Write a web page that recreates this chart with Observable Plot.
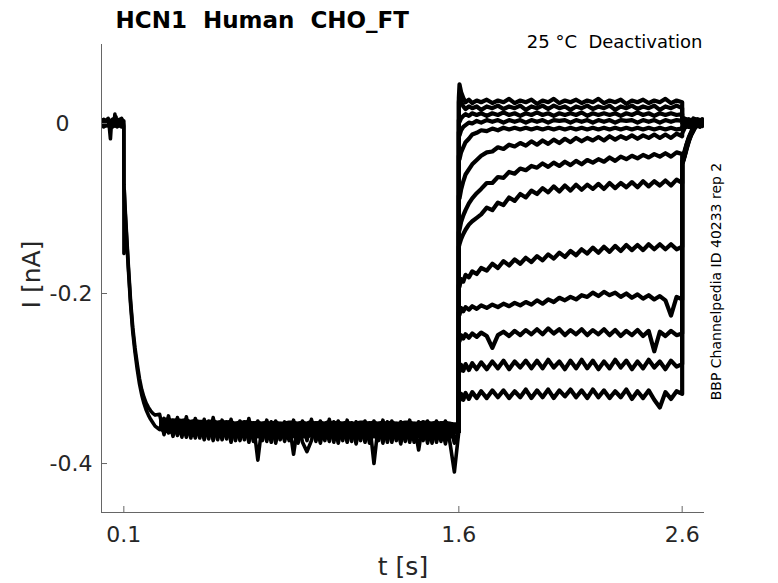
<!DOCTYPE html>
<html>
<head>
<meta charset="utf-8">
<script src="https://cdn.jsdelivr.net/npm/d3@7"></script>
<script src="https://cdn.jsdelivr.net/npm/@observablehq/plot@0.6"></script>
<style>
  body { margin: 0; background: #fff; }
  svg text { white-space: pre; }
</style>
</head>
<body>
<div id="chart"></div>
<script>
// ---- tick labels / text ----
const xTicks = [0.1, 1.6, 2.6];
const yTicks = [0, -0.2, -0.4];
const titleText = "HCN1  Human  CHO_FT";
const conditionText = "25 °C  Deactivation";
const sourceText = "BBP Channelpedia ID 40233 rep 2";

// ---- prepulse (shared by all sweeps), two representative sweeps A/B ----
const tHold = [0, 0.005, 0.01, 0.015, 0.02, 0.025, 0.03, 0.035, 0.04, 0.045, 0.05,
  0.055, 0.06, 0.065, 0.07, 0.075, 0.08, 0.085, 0.09, 0.095, 0.1];
const tDecay = [0.1005, 0.102, 0.105, 0.11, 0.115, 0.12, 0.13, 0.14, 0.15, 0.16,
  0.17, 0.18, 0.19, 0.2, 0.21, 0.22, 0.23, 0.24];
const tBand = [0.26, 0.28, 0.30, 0.32, 0.34, 0.36, 0.38, 0.40, 0.42, 0.44,
  0.46, 0.48, 0.50, 0.52, 0.54, 0.56, 0.58, 0.60, 0.62, 0.64,
  0.66, 0.68, 0.70, 0.72, 0.74, 0.76, 0.78, 0.80, 0.82, 0.84,
  0.86, 0.88, 0.90, 0.92, 0.94, 0.96, 0.98, 1.00, 1.02, 1.04,
  1.06, 1.08, 1.10, 1.12, 1.14, 1.16, 1.18, 1.20, 1.22, 1.24,
  1.26, 1.28, 1.30, 1.32, 1.34, 1.36, 1.38, 1.40, 1.42, 1.44,
  1.46, 1.48, 1.50, 1.52, 1.54, 1.56, 1.58, 1.60];

const holdA = [0.004, -0.003, 0.005, -0.003, 0.004, -0.002, 0.006, -0.004, -0.018, 0.003,
  0.005, -0.003, 0.011, -0.003, 0.004, -0.003, 0.005, -0.003, 0.006, -0.003, 0.003];
const holdB = [-0.003, 0.004, -0.004, 0.003, -0.003, 0.005, -0.003, 0.004, -0.005, 0.004,
  -0.004, 0.005, -0.003, 0.008, -0.004, 0.004, -0.003, 0.005, -0.004, 0.004, -0.003];
const decayA = [-0.153, -0.078, -0.096, -0.12, -0.143, -0.166, -0.208, -0.24, -0.264, -0.283,
  -0.300, -0.313, -0.322, -0.329, -0.334, -0.338, -0.341, -0.343];
const decayB = [-0.072, -0.082, -0.1, -0.124, -0.147, -0.17, -0.212, -0.245, -0.269, -0.289,
  -0.306, -0.319, -0.329, -0.337, -0.343, -0.348, -0.352, -0.356];
const bandA = [
  -0.342, -0.366, -0.344, -0.368, -0.346, -0.369, -0.345, -0.370, -0.347, -0.370,
  -0.348, -0.371, -0.346, -0.372, -0.349, -0.371, -0.348, -0.373, -0.350, -0.372,
  -0.347, -0.374, -0.350, -0.373, -0.349, -0.375, -0.350, -0.372, -0.351, -0.373,
  -0.349, -0.376, -0.350, -0.373, -0.348, -0.374, -0.350, -0.373, -0.348, -0.375,
  -0.350, -0.373, -0.349, -0.374, -0.351, -0.373, -0.350, -0.376, -0.350, -0.373,
  -0.349, -0.375, -0.350, -0.373, -0.351, -0.374, -0.349, -0.375, -0.351, -0.373,
  -0.350, -0.376, -0.350, -0.374, -0.350, -0.375, -0.410, -0.362];
const bandB = [
  -0.360, -0.347, -0.364, -0.349, -0.367, -0.350, -0.369, -0.351, -0.370, -0.351,
  -0.372, -0.350, -0.373, -0.352, -0.372, -0.351, -0.375, -0.353, -0.373, -0.351,
  -0.375, -0.352, -0.396, -0.353, -0.374, -0.351, -0.376, -0.353, -0.374, -0.352,
  -0.389, -0.353, -0.375, -0.386, -0.373, -0.352, -0.376, -0.353, -0.374, -0.351,
  -0.376, -0.353, -0.375, -0.352, -0.377, -0.353, -0.375, -0.352, -0.400, -0.353,
  -0.376, -0.351, -0.375, -0.353, -0.377, -0.352, -0.375, -0.353, -0.384, -0.351,
  -0.376, -0.353, -0.375, -0.352, -0.377, -0.353, -0.376, -0.360];
// envelope of the overlapping sweeps during the prepulse plateau
const bandHi = [
  -0.345, -0.347, -0.346, -0.348, -0.347, -0.348, -0.347, -0.349, -0.348, -0.349,
  -0.349, -0.350, -0.348, -0.350, -0.349, -0.350, -0.349, -0.351, -0.350, -0.350,
  -0.349, -0.351, -0.350, -0.351, -0.350, -0.351, -0.350, -0.351, -0.351, -0.350,
  -0.350, -0.351, -0.350, -0.351, -0.349, -0.351, -0.350, -0.351, -0.349, -0.351,
  -0.350, -0.351, -0.350, -0.351, -0.351, -0.350, -0.350, -0.351, -0.350, -0.351,
  -0.350, -0.351, -0.350, -0.351, -0.351, -0.350, -0.350, -0.351, -0.351, -0.350,
  -0.350, -0.351, -0.350, -0.351, -0.350, -0.351, -0.352, -0.352];
const bandLo = [
  -0.362, -0.364, -0.365, -0.366, -0.366, -0.367, -0.367, -0.368, -0.368, -0.368,
  -0.369, -0.369, -0.369, -0.370, -0.369, -0.370, -0.370, -0.370, -0.371, -0.370,
  -0.371, -0.370, -0.371, -0.371, -0.370, -0.371, -0.371, -0.370, -0.371, -0.371,
  -0.371, -0.370, -0.371, -0.371, -0.370, -0.371, -0.371, -0.370, -0.371, -0.371,
  -0.371, -0.370, -0.371, -0.371, -0.370, -0.371, -0.371, -0.370, -0.371, -0.371,
  -0.371, -0.370, -0.371, -0.371, -0.370, -0.371, -0.371, -0.370, -0.371, -0.371,
  -0.371, -0.370, -0.371, -0.371, -0.370, -0.371, -0.371, -0.360];

// ---- test pulse (1.6 s - 2.6 s), one array per sweep ----
const tTest = [1.6, 1.603, 1.61, 1.62, 1.63, 1.645, 1.66, 1.68, 1.7,
  1.725, 1.75, 1.775, 1.8, 1.825, 1.85, 1.875, 1.9, 1.925,
  1.95, 1.975, 2.0, 2.025, 2.05, 2.075, 2.1, 2.125, 2.15,
  2.175, 2.2, 2.225, 2.25, 2.275, 2.3, 2.325, 2.35, 2.375,
  2.4, 2.425, 2.45, 2.475, 2.5, 2.525, 2.55, 2.575, 2.6];

const test1 = [0.030, 0.046, 0.037, 0.030, 0.025, 0.028, 0.024, 0.027, 0.025,
  0.028, 0.024, 0.027, 0.025, 0.029, 0.024, 0.027, 0.025, 0.028,
  0.023, 0.027, 0.025, 0.029, 0.024, 0.027, 0.025, 0.028, 0.024,
  0.027, 0.025, 0.029, 0.024, 0.027, 0.025, 0.028, 0.023, 0.027,
  0.025, 0.028, 0.024, 0.027, 0.025, 0.029, 0.024, 0.027, 0.025];
const test2 = [0.025, 0.034, 0.026, 0.020, 0.017, 0.020, 0.018, 0.020, 0.016,
  0.020, 0.018, 0.021, 0.017, 0.020, 0.018, 0.021, 0.016, 0.020,
  0.018, 0.021, 0.017, 0.021, 0.018, 0.020, 0.016, 0.020, 0.018,
  0.021, 0.017, 0.020, 0.018, 0.021, 0.016, 0.020, 0.018, 0.021,
  0.017, 0.020, 0.018, 0.021, 0.016, 0.020, 0.018, 0.021, 0.018];
const test3 = [0.004, 0.002, 0.006, 0.009, 0.011, 0.009, 0.012, 0.010, 0.012,
  0.009, 0.012, 0.010, 0.013, 0.010, 0.012, 0.009, 0.012, 0.010,
  0.013, 0.010, 0.012, 0.009, 0.012, 0.010, 0.012, 0.010, 0.013,
  0.009, 0.012, 0.010, 0.012, 0.010, 0.012, 0.009, 0.012, 0.010,
  0.013, 0.010, 0.012, 0.009, 0.012, 0.010, 0.012, 0.010, 0.011];
const test4 = [-0.010, -0.014, -0.008, -0.004, -0.002, 0.001, 0.000, 0.003, 0.001,
  0.004, 0.002, 0.004, 0.001, 0.004, 0.002, 0.004, 0.001, 0.004,
  0.002, 0.004, 0.001, 0.004, 0.003, 0.004, 0.001, 0.004, 0.002,
  0.004, 0.001, 0.004, 0.002, 0.004, 0.001, 0.004, 0.003, 0.004,
  0.001, 0.004, 0.002, 0.004, 0.001, 0.004, 0.002, 0.004, 0.003];
const test5 = [-0.038, -0.042, -0.034, -0.028, -0.022, -0.018, -0.013, -0.011, -0.008,
  -0.009, -0.006, -0.008, -0.005, -0.007, -0.005, -0.007, -0.005, -0.007,
  -0.005, -0.007, -0.005, -0.007, -0.005, -0.007, -0.005, -0.007, -0.005,
  -0.007, -0.005, -0.007, -0.005, -0.007, -0.005, -0.007, -0.005, -0.007,
  -0.005, -0.007, -0.005, -0.007, -0.005, -0.007, -0.005, -0.007, -0.006];
const test6 = [-0.085, -0.088, -0.078, -0.068, -0.060, -0.054, -0.048, -0.043, -0.038,
  -0.034, -0.033, -0.028, -0.030, -0.025, -0.027, -0.023, -0.026, -0.021,
  -0.025, -0.020, -0.024, -0.019, -0.023, -0.018, -0.022, -0.017, -0.021,
  -0.017, -0.020, -0.016, -0.020, -0.015, -0.019, -0.015, -0.018, -0.014,
  -0.018, -0.014, -0.017, -0.013, -0.017, -0.013, -0.017, -0.012, -0.015];
const test7 = [-0.128, -0.125, -0.116, -0.108, -0.102, -0.094, -0.088, -0.082, -0.077,
  -0.070, -0.070, -0.063, -0.064, -0.057, -0.059, -0.053, -0.055, -0.050,
  -0.052, -0.047, -0.051, -0.046, -0.050, -0.045, -0.049, -0.044, -0.048,
  -0.043, -0.046, -0.042, -0.045, -0.040, -0.044, -0.039, -0.042, -0.038,
  -0.041, -0.037, -0.040, -0.036, -0.039, -0.035, -0.039, -0.034, -0.036];
const test8 = [-0.145, -0.142, -0.136, -0.130, -0.125, -0.119, -0.115, -0.111, -0.107,
  -0.099, -0.102, -0.093, -0.096, -0.087, -0.091, -0.083, -0.087, -0.079,
  -0.083, -0.076, -0.081, -0.074, -0.080, -0.073, -0.079, -0.072, -0.078,
  -0.072, -0.077, -0.071, -0.077, -0.070, -0.076, -0.070, -0.075, -0.069,
  -0.075, -0.068, -0.074, -0.068, -0.073, -0.067, -0.073, -0.066, -0.070];
const test9 = [-0.190, -0.192, -0.183, -0.186, -0.178, -0.181, -0.174, -0.177, -0.170,
  -0.173, -0.165, -0.170, -0.162, -0.167, -0.160, -0.165, -0.158, -0.163,
  -0.156, -0.161, -0.154, -0.159, -0.152, -0.157, -0.150, -0.155, -0.148,
  -0.153, -0.146, -0.152, -0.145, -0.151, -0.144, -0.150, -0.143, -0.149,
  -0.143, -0.149, -0.142, -0.148, -0.142, -0.148, -0.142, -0.148, -0.145];
const test10 = [-0.222, -0.225, -0.217, -0.221, -0.216, -0.219, -0.215, -0.218, -0.214,
  -0.217, -0.213, -0.216, -0.212, -0.215, -0.211, -0.214, -0.210, -0.213,
  -0.208, -0.212, -0.207, -0.210, -0.205, -0.208, -0.204, -0.207, -0.202,
  -0.204, -0.199, -0.203, -0.198, -0.202, -0.199, -0.204, -0.200, -0.205,
  -0.201, -0.206, -0.202, -0.207, -0.203, -0.208, -0.226, -0.204, -0.207];
const test11 = [-0.252, -0.256, -0.249, -0.253, -0.248, -0.252, -0.247, -0.251, -0.246,
  -0.250, -0.264, -0.249, -0.245, -0.250, -0.244, -0.249, -0.243, -0.248,
  -0.242, -0.248, -0.241, -0.247, -0.242, -0.249, -0.243, -0.248, -0.242,
  -0.249, -0.243, -0.248, -0.242, -0.249, -0.243, -0.250, -0.244, -0.249,
  -0.243, -0.250, -0.244, -0.268, -0.245, -0.250, -0.244, -0.249, -0.247];
const test12 = [-0.288, -0.292, -0.284, -0.291, -0.283, -0.290, -0.282, -0.289, -0.281,
  -0.289, -0.280, -0.288, -0.279, -0.289, -0.280, -0.287, -0.279, -0.288,
  -0.279, -0.288, -0.278, -0.287, -0.280, -0.289, -0.279, -0.288, -0.278,
  -0.288, -0.279, -0.289, -0.280, -0.288, -0.278, -0.287, -0.279, -0.289,
  -0.280, -0.288, -0.278, -0.287, -0.280, -0.289, -0.279, -0.286, -0.283];
const test13 = [-0.322, -0.326, -0.318, -0.325, -0.317, -0.324, -0.316, -0.323, -0.315,
  -0.323, -0.314, -0.322, -0.314, -0.323, -0.315, -0.322, -0.313, -0.323,
  -0.314, -0.322, -0.313, -0.323, -0.314, -0.321, -0.313, -0.322, -0.314,
  -0.323, -0.313, -0.322, -0.314, -0.323, -0.315, -0.322, -0.313, -0.324,
  -0.315, -0.323, -0.314, -0.325, -0.334, -0.316, -0.324, -0.315, -0.318];

// ---- return to holding (2.6 s - 2.7 s) ----
const tTail = [2.6, 2.603, 2.61, 2.62, 2.63, 2.64, 2.65, 2.66, 2.67, 2.68, 2.69, 2.7];
const tail1 = [0.005, 0.004, 0.006, 0.002, 0.005, 0.001, 0.006, 0.002, 0.005, 0.001, 0.005, 0.004];
const tail2 = [0.004, 0.005, 0.001, 0.005, 0.000, 0.004, 0.000, 0.005, 0.000, 0.004, 0.001, 0.003];
const tail3 = [0.002, -0.001, 0.003, -0.002, 0.004, -0.002, 0.003, -0.002, 0.004, -0.002, 0.003, 0.001];
const tail4 = [0.000, 0.002, -0.003, 0.003, -0.003, 0.002, -0.004, 0.003, -0.003, 0.004, -0.003, 0.002];
const tail5 = [-0.003, -0.004, 0.002, -0.004, 0.002, -0.005, 0.002, -0.004, 0.002, -0.004, 0.003, -0.001];
const tail6 = [-0.012, -0.010, -0.006, -0.001, -0.004, 0.002, -0.003, 0.003, -0.003, 0.003, -0.002, 0.001];
const tail7 = [-0.042, -0.040, -0.033, -0.024, -0.016, -0.010, -0.005, -0.001, 0.002, 0.004, 0.001, 0.003];
const tail8 = [-0.044, -0.042, -0.035, -0.025, -0.017, -0.011, -0.006, -0.002, 0.001, 0.003, 0.000, 0.002];
const tail9 = [-0.045, -0.043, -0.036, -0.026, -0.018, -0.012, -0.007, -0.002, 0.002, 0.000, 0.004, 0.001];
const tail10 = [-0.046, -0.044, -0.037, -0.027, -0.019, -0.012, -0.007, -0.003, 0.000, 0.003, -0.001, 0.002];
const tail11 = [-0.046, -0.045, -0.038, -0.028, -0.019, -0.013, -0.008, -0.003, 0.001, 0.004, 0.000, 0.003];
const tail12 = [-0.047, -0.045, -0.039, -0.029, -0.020, -0.013, -0.008, -0.003, 0.000, 0.002, 0.004, 0.001];
const tail13 = [-0.048, -0.046, -0.040, -0.030, -0.021, -0.014, -0.009, -0.004, 0.001, -0.001, 0.003, 0.000];

// ---- build tables ----
const tPre = [...tHold, ...tDecay, ...tBand];
const preSweeps = [[...holdA, ...decayA, ...bandA], [...holdB, ...decayB, ...bandB]];
const preData = preSweeps.flatMap((vals, s) => tPre.map((t, k) => ({t, i: vals[k], s})));
const bandData = tBand.map((t, k) => ({t, hi: bandHi[k], lo: bandLo[k]}));

const testSweeps = [test1, test2, test3, test4, test5, test6, test7, test8, test9, test10, test11, test12, test13];
const tailSweeps = [tail1, tail2, tail3, tail4, tail5, tail6, tail7, tail8, tail9, tail10, tail11, tail12, tail13];
const preEnd = {t: tBand[tBand.length - 1], i: bandA[bandA.length - 1]};
const testData = testSweeps.flatMap((vals, s) => [
  {t: preEnd.t, i: preEnd.i, s},
  ...tTest.map((t, k) => ({t, i: vals[k], s})),
  ...tailSweeps[s].map((v, k) => ({t: tTail[k], i: v, s}))
]);

const xDomain = [0, 2.7];
const yDomain = [-0.4576, 0.0929];
const axisColor = "#666";
const textColor = "#262626";

const chart = Plot.plot({
  width: 778,
  height: 583,
  marginLeft: 101,
  marginRight: 74,
  marginTop: 44,
  marginBottom: 71,
  style: {fontFamily: "DejaVu Sans", background: "#fff", color: textColor, overflow: "visible"},
  x: {domain: xDomain},
  y: {domain: yDomain},
  marks: [
    Plot.areaY(bandData, {x: "t", y1: "lo", y2: "hi", fill: "#000", clip: true}),
    Plot.line(preData, {x: "t", y: "i", z: "s", stroke: "#000", strokeWidth: 3.6, clip: true}),
    Plot.line(testData, {x: "t", y: "i", z: "s", stroke: "#000", strokeWidth: 4.2, clip: true}),
    // axis lines (left & bottom only)
    Plot.ruleX([xDomain[0]], {stroke: axisColor, strokeWidth: 1}),
    Plot.ruleY([yDomain[0]], {stroke: axisColor, strokeWidth: 1}),
    // inward ticks
    Plot.tickX(xTicks, {x: d => d, insetTop: 462, stroke: axisColor}),
    Plot.tickY(yTicks, {y: d => d, insetRight: 597, stroke: axisColor}),
    // tick labels
    Plot.axisX({ticks: xTicks, tickSize: 0, tickPadding: 14, fontSize: 22, label: null,
      tickFormat: d => String(d), color: textColor}),
    Plot.axisY({ticks: yTicks.filter(d => d !== 0), tickSize: 0, tickPadding: 9, fontSize: 22, label: null,
      tickFormat: d => String(d), color: textColor}),
    Plot.axisY({ticks: yTicks.filter(d => d === 0), tickSize: 0, tickPadding: 32, fontSize: 22, label: null,
      tickFormat: d => String(d), color: textColor}),
    // axis titles
    Plot.text(["t [s]"], {text: d => d, frameAnchor: "bottom", dy: 62, textAnchor: "middle",
      lineAnchor: "bottom", fontSize: 25, fill: textColor}),
    Plot.text(["I [nA]"], {text: d => d, frameAnchor: "left", dx: -62, dy: -4, rotate: -90,
      textAnchor: "middle", lineAnchor: "bottom", fontSize: 25, fill: textColor}),
    // title and annotations
    Plot.text([titleText], {text: d => d, frameAnchor: "top-left", dx: 14, dy: -17, textAnchor: "start",
      lineAnchor: "bottom", fontSize: 23, fontWeight: "bold", fill: "#000"}),
    Plot.text([conditionText], {text: d => d, frameAnchor: "top-right", dx: -2, dy: 3, textAnchor: "end",
      lineAnchor: "bottom", fontSize: 18, fill: "#000"}),
    Plot.text([sourceText], {text: d => d, frameAnchor: "right", dx: 16, dy: 3, rotate: -90,
      textAnchor: "middle", lineAnchor: "bottom", fontSize: 14, fill: "#000"})
  ]
});
document.getElementById("chart").appendChild(chart);
</script>
</body>
</html>
